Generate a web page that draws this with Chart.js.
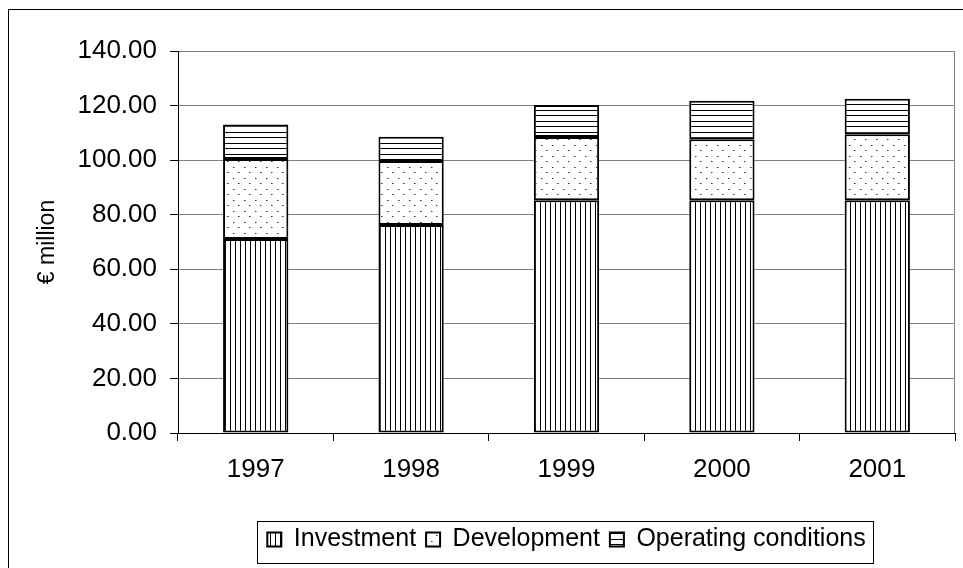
<!DOCTYPE html>
<html>
<head>
<meta charset="utf-8">
<script src="https://cdn.jsdelivr.net/npm/chart.js@4"></script>
<style>
html,body{margin:0;padding:0;background:#fff;}
canvas{display:block;}
</style>
</head>
<body>
<canvas id="c" width="963" height="568"></canvas>
<script>
const categories = ['1997', '1998', '1999', '2000', '2001'];
const investment = [71.1, 76.2, 85.3, 85.3, 85.3];
const development = [29.3, 23.5, 23.2, 22.4, 24.2];
const operating = [12.7, 8.9, 11.7, 14.1, 13.0];
const seriesNames = ['Investment', 'Development', 'Operating conditions'];
const yAxisTitle = '€ million';

function makePattern(kind) {
  const c = document.createElement('canvas');
  const ctx = c.getContext('2d');
  if (kind === 'vertical') {
    c.width = 5; c.height = 2;
    ctx.fillStyle = '#fff'; ctx.fillRect(0, 0, 5, 2);
    ctx.fillStyle = '#000'; ctx.fillRect(0, 0, 1, 2);
  } else if (kind === 'horizontal') {
    c.width = 2; c.height = 11;
    ctx.fillStyle = '#fff'; ctx.fillRect(0, 0, 2, 11);
    ctx.fillStyle = '#000'; ctx.fillRect(0, 0, 2, 1); ctx.fillRect(0, 5, 2, 1);
  } else {
    c.width = 11; c.height = 11;
    ctx.fillStyle = '#fff'; ctx.fillRect(0, 0, 11, 11);
    ctx.fillStyle = '#333';
    ctx.fillRect(2, 2, 1, 1); ctx.fillRect(7, 7, 1, 1);
    ctx.fillStyle = '#999';
    ctx.fillRect(3, 2, 1, 1); ctx.fillRect(8, 7, 1, 1);
  }
  return document.getElementById('c').getContext('2d').createPattern(c, 'repeat');
}

const frame = {
  id: 'frame',
  beforeDraw(chart) {
    const ctx = chart.ctx;
    ctx.save();
    ctx.fillStyle = '#fff';
    ctx.fillRect(0, 0, chart.width, chart.height);
    ctx.strokeStyle = '#000';
    ctx.lineWidth = 1;
    ctx.strokeRect(8.5, 9.5, 1200, 1200);
    ctx.restore();
  },
  afterDraw(chart) {
    const ctx = chart.ctx;
    const a = chart.chartArea;
    ctx.save();
    ctx.strokeStyle = '#808080';
    ctx.lineWidth = 1;
    ctx.beginPath();
    ctx.moveTo(Math.round(a.right) - 0.5, a.top);
    ctx.lineTo(Math.round(a.right) - 0.5, a.bottom);
    ctx.stroke();
    const lg = chart.legend;
    if (lg && lg.legendHitBoxes && lg.legendHitBoxes.length) {
      const hb = lg.legendHitBoxes;
      const l = hb[0].left - 10;
      const last = hb[hb.length - 1];
      const r = last.left + last.width + 8;
      const t = hb[0].top - 6;
      const b = hb[0].top + hb[0].height + 11;
      ctx.strokeStyle = '#000';
      ctx.strokeRect(Math.round(l) + 0.5, Math.round(t) + 0.5, Math.round(r - l), Math.round(b - t));
    }
    ctx.restore();
  }
};

new Chart(document.getElementById('c'), {
  type: 'bar',
  data: {
    labels: categories,
    datasets: [
      { label: seriesNames[0], data: investment, backgroundColor: makePattern('vertical'), borderColor: '#000', borderWidth: 2, borderSkipped: false },
      { label: seriesNames[1], data: development, backgroundColor: makePattern('dots'), borderColor: '#000', borderWidth: 2, borderSkipped: false },
      { label: seriesNames[2], data: operating, backgroundColor: makePattern('horizontal'), borderColor: '#000', borderWidth: 2, borderSkipped: false }
    ]
  },
  options: {
    responsive: false,
    animation: false,
    devicePixelRatio: 1,
    layout: { padding: { left: 0, right: 8, top: 51, bottom: 6 } },
    datasets: { bar: { barPercentage: 0.42, categoryPercentage: 1.0 } },
    scales: {
      x: {
        stacked: true,
        afterFit(s) { s.height = 84; },
        grid: { offset: true, drawOnChartArea: false, drawTicks: true, tickLength: 8, tickColor: '#000' },
        border: { color: '#000', width: 1 },
        ticks: { color: '#000', padding: 13, font: { family: 'Liberation Sans', size: 26 } }
      },
      y: {
        stacked: true,
        min: 0, max: 140,
        afterFit(s) { s.width = 178; },
        grid: { color: '#808080', lineWidth: 1, tickLength: 8, tickColor: '#000' },
        border: { color: '#000', width: 1 },
        ticks: { stepSize: 20, color: '#000', padding: 13, font: { family: 'Liberation Sans', size: 26 },
          callback: v => Number(v).toFixed(2) },
        title: { display: true, text: yAxisTitle, color: '#000', padding: { top: 34, bottom: 0 },
          font: { family: 'Liberation Sans', size: 23 } }
      }
    },
    plugins: {
      legend: {
        position: 'bottom',
        fullSize: false,
        labels: { color: '#000', boxWidth: 14, boxHeight: 14, padding: 10,
          font: { family: 'Liberation Sans', size: 25 } }
      },
      tooltip: { enabled: false }
    }
  },
  plugins: [frame]
});
</script>
</body>
</html>
